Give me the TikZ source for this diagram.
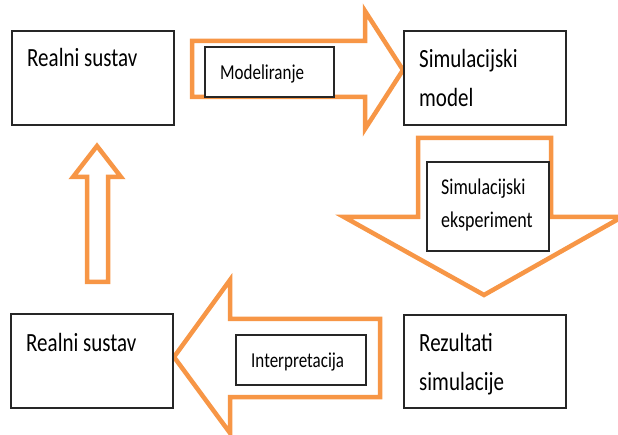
\documentclass[tikz,border=0pt]{standalone}
\usepackage{fontspec}
\setmainfont{Carlito}
\usepackage{graphicx}
\definecolor{orng}{HTML}{F79646}
\newcommand\stretchtxt[1]{\scalebox{1}[1.25]{#1}}
\begin{document}
\begin{tikzpicture}[x=1pt,y=-1pt,
  blok/.style={draw=black!85, line width=1.8pt, fill=white, inner sep=0pt, rectangle},
  blockarrow/.style={draw=orng, line width=4.5pt, fill=white, line join=miter},
  bigtxt/.style={anchor=base west, inner sep=0pt, font=\fontsize{21}{25}\selectfont},
  midtxt/.style={anchor=base west, inner sep=0pt, font=\fontsize{18}{22}\selectfont},
  smalltxt/.style={anchor=base west, inner sep=0pt, font=\fontsize{17}{20}\selectfont}]
\useasboundingbox (0,0) rectangle (618,435);
% block arrows
\draw[blockarrow] (192,41) -- (365,41) -- (365,11) -- (403,70) -- (365,129) -- (365,97) -- (192,97) -- cycle;
\draw[blockarrow] (418,138) -- (551,138) -- (551,217) -- (622,217) -- (484,295) -- (344,217) -- (418,217) -- cycle;
\draw[blockarrow] (87,282) -- (87,177) -- (73,177) -- (97,146) -- (121,177) -- (108,177) -- (108,282) -- cycle;
\draw[blockarrow] (380,319) -- (230,319) -- (230,280) -- (174,357) -- (230,433) -- (230,397) -- (380,397) -- cycle;
% main boxes
\node[blok, minimum width=162pt, minimum height=94pt] (real1) at (93,78) {};
\node[blok, minimum width=162pt, minimum height=94pt] (model) at (485,78) {};
\node[blok, minimum width=162pt, minimum height=94pt] (real2) at (92,361) {};
\node[blok, minimum width=162pt, minimum height=93pt] (rez) at (485,361.5) {};
% label boxes
\node[blok, minimum width=129pt, minimum height=50pt] (lmod) at (269.5,72) {};
\node[blok, minimum width=122pt, minimum height=89pt] (lexp) at (488,206.5) {};
\node[blok, minimum width=130pt, minimum height=50pt] (lint) at (301,360) {};
% texts
\node[bigtxt] (t1) at (27,67) {\stretchtxt{Realni sustav}};
\node[bigtxt] (t2) at (419,68) {\stretchtxt{Simulacijski}};
\node[bigtxt] (t3) at (419,107) {\stretchtxt{model}};
\node[bigtxt] (t4) at (26,352) {\stretchtxt{Realni sustav}};
\node[bigtxt] (t5) at (419,352) {\stretchtxt{Rezultati}};
\node[bigtxt] (t6) at (419,390) {\stretchtxt{simulacije}};
\node[smalltxt] (t7) at (220,80) {\stretchtxt{Modeliranje}};
\node[midtxt] (t8) at (441,195) {\stretchtxt{Simulacijski}};
\node[midtxt] (t9) at (441,228) {\stretchtxt{eksperiment}};
\node[smalltxt] (t10) at (251,367) {\stretchtxt{Interpretacija}};
\end{tikzpicture}
\end{document}
